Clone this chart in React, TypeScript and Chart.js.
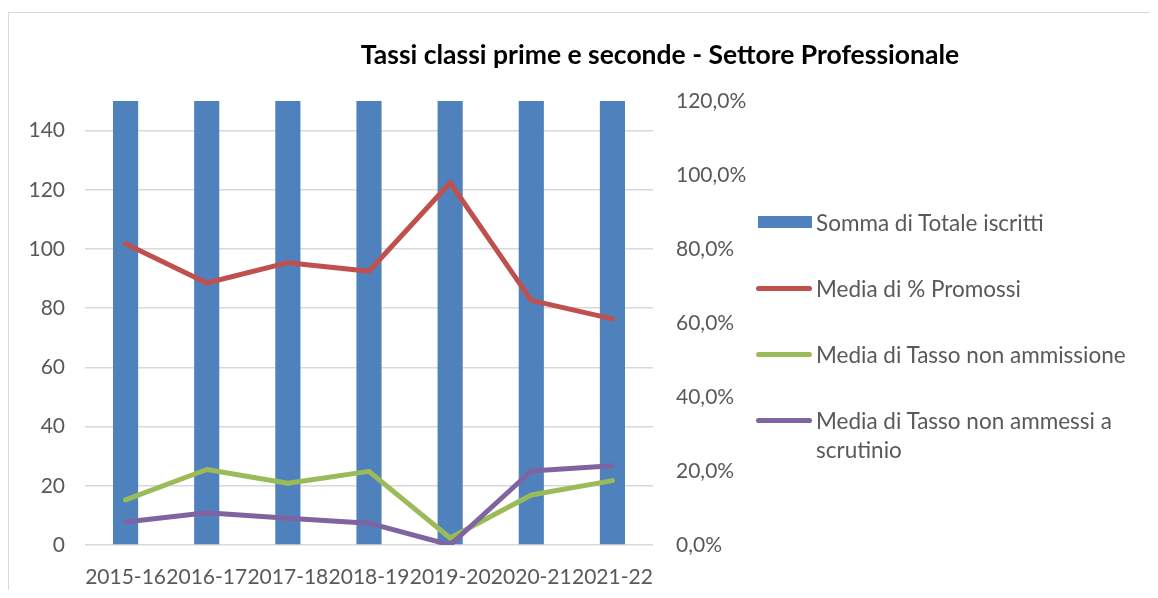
import React, { useEffect, useRef } from "react";
import Chart from "chart.js/auto";

const categories = ["2015-16", "2016-17", "2017-18", "2018-19", "2019-20", "2020-21", "2021-22"];
const totaleIscritti = [318, 305, 297, 288, 276, 270, 262];
const promossi = [0.814, 0.708, 0.763, 0.74, 0.979, 0.661, 0.611];
const nonAmmissione = [0.122, 0.204, 0.167, 0.199, 0.019, 0.135, 0.174];
const nonAmmessi = [0.062, 0.087, 0.072, 0.059, 0.0, 0.2, 0.214];

const seriesNames = [
  "Somma di Totale iscritti",
  "Media di % Promossi",
  "Media di Tasso non ammissione",
  "Media di Tasso non ammessi a scrutinio",
];
const colors = ["#4F81BD", "#C0504D", "#9BBB59", "#8064A2"];
const title = "Tassi classi prime e seconde - Settore Professionale";

const FONT = "Lato, 'Open Sans', sans-serif";
const W = 1150;
const H = 582;

export default function App() {
  const ref = useRef<HTMLCanvasElement | null>(null);

  useEffect(() => {
    if (!ref.current) return;
    const chart = new Chart(ref.current, {
      data: {
        labels: categories,
        datasets: [
          {
            type: "bar",
            label: seriesNames[0],
            data: totaleIscritti,
            backgroundColor: colors[0],
            yAxisID: "y",
            order: 3,
            barPercentage: 0.31,
            categoryPercentage: 1,
          },
          {
            type: "line",
            label: seriesNames[1],
            data: promossi,
            borderColor: colors[1],
            backgroundColor: colors[1],
            borderWidth: 5,
            pointRadius: 0,
            tension: 0,
            yAxisID: "y1",
            order: 2,
            borderCapStyle: "round",
            borderJoinStyle: "round",
          },
          {
            type: "line",
            label: seriesNames[2],
            data: nonAmmissione,
            borderColor: colors[2],
            backgroundColor: colors[2],
            borderWidth: 5,
            pointRadius: 0,
            tension: 0,
            yAxisID: "y1",
            order: 1,
            borderCapStyle: "round",
            borderJoinStyle: "round",
          },
          {
            type: "line",
            label: seriesNames[3],
            data: nonAmmessi,
            borderColor: colors[3],
            backgroundColor: colors[3],
            borderWidth: 5,
            pointRadius: 0,
            tension: 0,
            yAxisID: "y1",
            order: 0,
            borderCapStyle: "round",
            borderJoinStyle: "round",
          },
        ],
      },
      options: {
        responsive: false,
        animation: false,
        devicePixelRatio: 1,
        layout: { padding: { top: 93, left: 0, right: 405, bottom: 0 } },
        plugins: {
          legend: { display: false },
          title: { display: false },
          tooltip: { enabled: false },
        },
        scales: {
          x: {
            offset: true,
            grid: { display: false },
            border: { display: false },
            ticks: {
              color: "#595959",
              font: { family: FONT, size: 21 },
              maxRotation: 0,
              minRotation: 0,
              autoSkip: false,
              padding: 12,
            },
            afterFit: (s: any) => {
              s.height = 45;
            },
          },
          y: {
            position: "left",
            min: 0,
            max: 150,
            ticks: {
              stepSize: 20,
              color: "#595959",
              font: { family: FONT, size: 21 },
              padding: 20,
            },
            afterBuildTicks: (s: any) => {
              s.ticks = s.ticks.filter((t: any) => t.value <= 140);
            },
            grid: { color: "#d9d9d9", lineWidth: 1.5, drawTicks: false },
            border: { display: false },
            afterFit: (s: any) => {
              s.width = 77;
            },
          },
          y1: {
            position: "right",
            min: 0,
            max: 1.2,
            ticks: {
              stepSize: 0.2,
              color: "#595959",
              font: { family: FONT, size: 21 },
              padding: 23,
              callback: (v: any) => (Number(v) * 100).toFixed(1).replace(".", ",") + "%",
            },
            grid: { display: false, drawTicks: false },
            border: { display: false },
            afterFit: (s: any) => {
              s.width = 100;
            },
          },
        },
      },
    });
    return () => chart.destroy();
  }, []);

  const legendTextStyle: React.CSSProperties = {
    fontFamily: FONT,
    fontSize: 22.5,
    color: "#595959",
    lineHeight: "29px",
    width: 330,
  };

  const marker = (i: number) =>
    i === 0 ? (
      <div style={{ width: 54, height: 12, background: colors[0], marginTop: 8.5, marginLeft: 2, marginRight: 4, flex: "none" }} />
    ) : (
      <div style={{ width: 56, height: 5, borderRadius: 3, background: colors[i], marginTop: 12, marginRight: 4, flex: "none" }} />
    );

  return (
    <div style={{ position: "relative", width: W, height: H }}>
      <div
        style={{
          position: "absolute",
          left: 0,
          top: 4,
          right: 0,
          bottom: 0,
          borderTop: "1.5px solid #d9d9d9",
          borderLeft: "1.5px solid #d9d9d9",
        }}
      />
      <canvas ref={ref} width={W} height={H} style={{ position: "absolute", left: 0, top: 0, width: W, height: H }} />
      <div
        style={{
          position: "absolute",
          left: 652,
          top: 46,
          transform: "translate(-50%, -50%)",
          whiteSpace: "nowrap",
          fontFamily: FONT,
          fontWeight: "bold",
          fontSize: 26.5,
          color: "#000",
        }}
      >
        {title}
      </div>
      <div style={{ position: "absolute", left: 748, top: 199.5 }}>
        {seriesNames.map((n, i) => (
          <div key={n} style={{ display: "flex", alignItems: "flex-start", marginBottom: 37 }}>
            {marker(i)}
            <div style={legendTextStyle}>{n}</div>
          </div>
        ))}
      </div>
    </div>
  );
}
